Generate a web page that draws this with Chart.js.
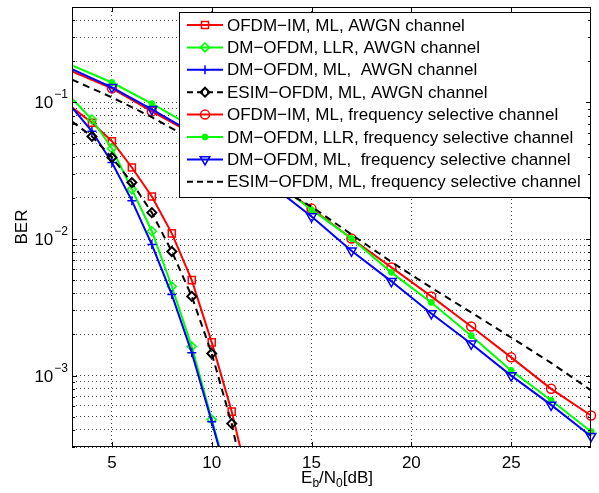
<!DOCTYPE html>
<html>
<head>
<meta charset="utf-8">
<script src="https://cdn.jsdelivr.net/npm/chart.js@4/dist/chart.umd.min.js"></script>
<style>
  html, body { margin: 0; padding: 0; background: #fff; }
  #wrap { width: 599px; height: 493px; }
</style>
</head>
<body>
<div id="wrap"><canvas id="berChart" width="599" height="493"></canvas></div>
<script>
// BER vs Eb/N0 values

const snr_awgn = [3, 4, 5, 6, 7, 8, 9, 10, 11, 12]
const ber_ofdm_im_awgn = [0.092, 0.071, 0.052, 0.0334, 0.0205, 0.011, 0.0050, 0.00175, 0.000545, 0.000134]
const ber_dm_llr_awgn = [0.107, 0.075, 0.046, 0.0231, 0.0114, 0.00449, 0.00163, 0.000476, 0.000144]
const ber_dm_ml_awgn = [0.092, 0.0615, 0.0363, 0.0191, 0.0091, 0.00392, 0.00147, 0.00046, 0.000138]
const ber_esim_awgn = [0.0726, 0.0564, 0.0395, 0.0259, 0.0156, 0.0081, 0.0038, 0.00145, 0.000445, 0.000095]

const snr_fsc = [3, 5, 7, 9, 11, 13, 15, 17, 19, 21, 23, 25, 27, 29]
const ber_ofdm_im_fsc = [0.169, 0.127, 0.086, 0.0593, 0.0395, 0.0268, 0.0167, 0.0101, 0.0062, 0.0038, 0.00229, 0.00136, 0.0008, 0.00051]
const ber_dm_llr_fsc = [0.187, 0.140, 0.098, 0.0667, 0.0437, 0.0273, 0.0164, 0.0101, 0.0057, 0.00343, 0.00196, 0.00109, 0.00066, 0.00039]
const ber_dm_ml_fsc = [0.175, 0.129, 0.089, 0.0603, 0.0402, 0.0247, 0.0146, 0.0082, 0.0049, 0.00285, 0.00171, 0.0010, 0.00061, 0.00036]
const ber_esim_fsc = [0.147, 0.109, 0.078, 0.0536, 0.037, 0.0251, 0.0173, 0.0108, 0.0068, 0.0044, 0.0029, 0.0019, 0.00124, 0.00078]

const x_tick_values = [5, 10, 15, 20, 25]
const y_decades = [-1, -2, -3]

const FONT = '"Liberation Sans", Arial, Helvetica, sans-serif'

const series = [
  {label: 'OFDM−IM, ML, AWGN channel', xs: snr_awgn, ys: ber_ofdm_im_awgn, color: '#ff0000', style: 'rect', radius: 5, rotation: 0, dash: [], filled: false, mw: 1.5},
  {label: 'DM−OFDM, LLR, AWGN channel', xs: snr_awgn, ys: ber_dm_llr_awgn, color: '#00ff00', style: 'rectRot', radius: 4.5, rotation: 0, dash: [], filled: false, mw: 1.5},
  {label: 'DM−OFDM, ML,  AWGN channel', xs: snr_awgn, ys: ber_dm_ml_awgn, color: '#0000ff', style: 'cross', radius: 4.5, rotation: 0, dash: [], filled: false, mw: 1.5},
  {label: 'ESIM−OFDM, ML, AWGN channel', xs: snr_awgn, ys: ber_esim_awgn, color: '#000000', style: 'rectRot', radius: 4.5, rotation: 0, dash: [7, 5], filled: false, mw: 2},
  {label: 'OFDM−IM, ML, frequency selective channel', xs: snr_fsc, ys: ber_ofdm_im_fsc, color: '#ff0000', style: 'circle', radius: 4.5, rotation: 0, dash: [], filled: false, mw: 1.5},
  {label: 'DM−OFDM, LLR, frequency selective channel', xs: snr_fsc, ys: ber_dm_llr_fsc, color: '#00ff00', style: 'circle', radius: 3, rotation: 0, dash: [], filled: true, mw: 1},
  {label: 'DM−OFDM, ML,  frequency selective channel', xs: snr_fsc, ys: ber_dm_ml_fsc, color: '#0000ff', style: 'triangle', radius: 5.5, rotation: 180, dash: [], filled: false, mw: 1.5},
  {label: 'ESIM−OFDM, ML, frequency selective channel', xs: snr_fsc, ys: ber_esim_fsc, color: '#000000', style: false, radius: 0, rotation: 0, dash: [7, 5], filled: false, mw: 1}
]

// minor + major grid values for the log axis
const y_grid_values = []
for (let e = -4; e <= -1; e++) {
  for (let k = 1; k <= 9; k++) {
    const v = k * Math.pow(10, e)
    if (v >= 3e-4 - 1e-12 && v <= 0.5 + 1e-12) y_grid_values.push(v)
  }
}

const datasets = series.map((s, i) => ({
  label: s.label,
  data: s.ys.map((v, j) => ({x: s.xs[j], y: v})),
  borderColor: s.color,
  borderWidth: 2,
  borderDash: s.dash,
  pointStyle: s.style,
  pointRadius: ctx => (ctx.raw && ctx.raw.x <= 3) ? 0 : s.radius,
  pointRotation: s.rotation,
  pointBorderColor: s.color,
  pointBackgroundColor: s.filled ? s.color : 'rgba(0,0,0,0)',
  pointBorderWidth: s.mw,
  tension: 0,
  fill: false,
  order: series.length - i,
  clip: {left: 0, top: 0, right: 8, bottom: 0}
}))

function draw_point(ctx, s, x, y) {
  if (!s.style) return
  ctx.save()
  ctx.strokeStyle = s.color
  ctx.fillStyle = s.filled ? s.color : 'rgba(0,0,0,0)'
  ctx.lineWidth = s.mw
  ctx.setLineDash([])
  Chart.helpers.drawPoint(ctx, {pointStyle: s.style, radius: s.radius, rotation: s.rotation, borderWidth: s.mw}, x, y)
  ctx.restore()
}

const matlab_axes = {
  id: 'matlab_axes',
  afterDatasetsDraw(chart) {
    const {ctx, chartArea: a, scales: {x, y}} = chart
    ctx.save()

    // legend box
    const lx0 = 179, ly0 = 12, lx1 = a.right, ly1 = 198
    ctx.fillStyle = '#fff'
    ctx.fillRect(lx0, ly0, lx1 - lx0, ly1 - ly0)
    ctx.strokeStyle = '#000'
    ctx.lineWidth = 1
    ctx.strokeRect(lx0 + 0.5, ly0 + 0.5, lx1 - lx0 - 1, ly1 - ly0 - 1)

    ctx.font = '17px ' + FONT
    ctx.textBaseline = 'middle'
    ctx.textAlign = 'left'
    series.forEach((s, i) => {
      const ry = 25 + i * 22.4
      ctx.strokeStyle = s.color
      ctx.lineWidth = 2
      ctx.setLineDash(s.dash.length ? [6, 4] : [])
      ctx.beginPath()
      ctx.moveTo(187, ry)
      ctx.lineTo(223, ry)
      ctx.stroke()
      ctx.setLineDash([])
      draw_point(ctx, s, 205, ry)
      ctx.fillStyle = '#000'
      ctx.fillText(s.label, 227, ry + 1)
    })

    // axes box
    ctx.strokeStyle = '#000'
    ctx.lineWidth = 1
    ctx.setLineDash([])
    ctx.strokeRect(a.left + 0.5, a.top + 0.5, a.right - a.left - 1, a.bottom - a.top - 1)

    // tick marks, pointing inward
    ctx.beginPath()
    x_tick_values.forEach(v => {
      const px = Math.round(x.getPixelForValue(v)) + 0.5
      ctx.moveTo(px, a.bottom); ctx.lineTo(px, a.bottom - 5)
      ctx.moveTo(px, a.top); ctx.lineTo(px, a.top + 5)
    })
    y_grid_values.forEach(v => {
      const py = Math.round(y.getPixelForValue(v)) + 0.5
      const major = Math.abs(Math.log10(v) - Math.round(Math.log10(v))) < 1e-9
      const len = major ? 5 : 3
      ctx.moveTo(a.left, py); ctx.lineTo(a.left + len, py)
      ctx.moveTo(a.right, py); ctx.lineTo(a.right - len, py)
    })
    ctx.stroke()

    // x tick labels
    ctx.fillStyle = '#000'
    ctx.font = '17px ' + FONT
    ctx.textAlign = 'center'
    ctx.textBaseline = 'alphabetic'
    x_tick_values.forEach(v => {
      ctx.fillText(String(v), x.getPixelForValue(v), a.bottom + 21)
    })

    // y tick labels, 10^n
    y_decades.forEach(e => {
      const py = y.getPixelForValue(Math.pow(10, e))
      const sup = '−' + Math.abs(e)
      ctx.font = '12px ' + FONT
      const sw = ctx.measureText(sup).width
      ctx.textAlign = 'right'
      ctx.fillText(sup, 68, py - 4)
      ctx.font = '17px ' + FONT
      ctx.fillText('10', 68 - sw - 1, py + 6)
    })

    // y title
    ctx.save()
    ctx.translate(27, (a.top + a.bottom) / 2)
    ctx.rotate(-Math.PI / 2)
    ctx.font = '17px ' + FONT
    ctx.textAlign = 'center'
    ctx.textBaseline = 'alphabetic'
    ctx.fillText('BER', 0, 0)
    ctx.restore()

    // x title with subscripts
    const parts = [['E', 17, 0], ['b', 12, 4], ['/N', 17, 0], ['0', 12, 4], ['[dB]', 17, 0]]
    let total = 0
    parts.forEach(p => { ctx.font = p[1] + 'px ' + FONT; total += ctx.measureText(p[0]).width })
    let cx = 337 - total / 2
    ctx.textAlign = 'left'
    parts.forEach(p => {
      ctx.font = p[1] + 'px ' + FONT
      ctx.fillText(p[0], cx, 483 + p[2])
      cx += ctx.measureText(p[0]).width
    })

    ctx.restore()
  }
}

const ctx = document.getElementById('berChart').getContext('2d')

const chart = new Chart(ctx, {
  type: 'line',
  data: {datasets: datasets},
  options: {
    responsive: false,
    animation: false,
    layout: {padding: {left: 72, right: 8, top: 7, bottom: 46}},
    plugins: {
      legend: {display: false},
      tooltip: {enabled: false}
    },
    scales: {
      x: {
        type: 'linear',
        min: 3,
        max: 29,
        afterBuildTicks: scale => { scale.ticks = x_tick_values.map(v => ({value: v})) },
        ticks: {display: false},
        grid: {color: '#444', lineWidth: 1, drawTicks: false},
        border: {display: false, dash: [1, 3]}
      },
      y: {
        type: 'logarithmic',
        min: 3e-4,
        max: 0.5,
        afterBuildTicks: scale => { scale.ticks = y_grid_values.map(v => ({value: v})) },
        ticks: {display: false},
        grid: {color: '#444', lineWidth: 1, drawTicks: false},
        border: {display: false, dash: [1, 3]}
      }
    }
  },
  plugins: [matlab_axes]
})
</script>
</body>
</html>
